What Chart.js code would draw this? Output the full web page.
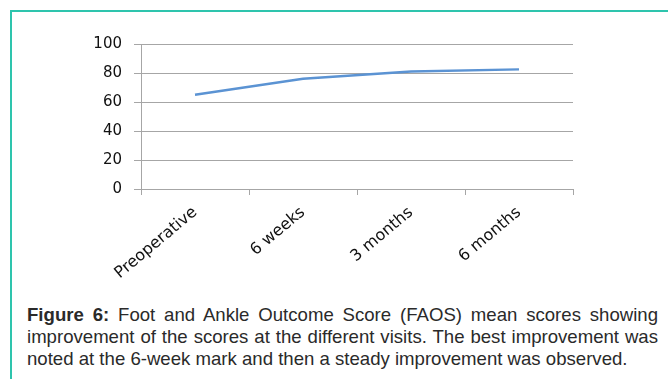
<!DOCTYPE html>
<html>
<head>
<meta charset="utf-8">
<script src="https://cdn.jsdelivr.net/npm/chart.js@4"></script>
<style>
  html, body { margin: 0; padding: 0; background: #fff; }
  body { width: 668px; height: 379px; position: relative; overflow: hidden; }
  .frame { position: absolute; left: 10px; top: 10px; width: 700px; height: 400px;
           border-top: 2px solid #2ec4ad; border-left: 2px solid #2ec4ad; }
  .wrap { position: absolute; left: 0; top: 0; width: 668px; height: 300px; }
  .caption { position: absolute; left: 27px; top: 304px; width: 631px;
             font-family: "Liberation Sans", Arial, sans-serif; font-size: 18.6px;
             line-height: 22px; color: #2a2a2a; text-align: justify; }
</style>
</head>
<body>
<div class="frame"></div>
<div class="wrap"><canvas id="lineChart"></canvas></div>
<div class="caption"><b>Figure 6:</b> Foot and Ankle Outcome Score (FAOS) mean scores showing improvement of the scores at the different visits. The best improvement was noted at the 6-week mark and then a steady improvement was observed.</div>
<script>
const visits = ['Preoperative', '6 weeks', '3 months', '6 months'];
const faosMean = [65, 76, 81, 82.5];
const yTicks = [0, 20, 40, 60, 80, 100];

const ctx = document.getElementById('lineChart').getContext('2d');
const lineChart = new Chart(ctx, {
    type: 'line',
    data: {
        labels: visits,
        datasets: [{
            label: 'FAOS',
            data: faosMean,
            borderColor: '#5b93d3',
            borderWidth: 2.5,
            pointRadius: 0,
            tension: 0,
            fill: false
        }]
    },
    options: {
        responsive: true,
        maintainAspectRatio: false,
        animation: false,
        layout: { padding: { top: 44, right: 95, left: 0, bottom: 0 } },
        plugins: {
            legend: { display: false },
            tooltip: { enabled: false }
        },
        scales: {
            x: {
                offset: true,
                afterFit: (scale) => { scale.height = 111; },
                grid: {
                    offset: true,
                    drawOnChartArea: false,
                    drawTicks: true,
                    tickLength: 6,
                    color: '#a6a6a6'
                },
                border: { color: '#a6a6a6' },
                ticks: {
                    minRotation: 40,
                    maxRotation: 40,
                    padding: 8,
                    color: '#111',
                    font: { family: 'DejaVu Sans', size: 16 }
                }
            },
            y: {
                min: 0,
                max: 100,
                afterFit: (scale) => { scale.width = 141; },
                afterBuildTicks: (scale) => { scale.ticks = yTicks.map(v => ({ value: v })); },
                grid: {
                    color: '#a6a6a6',
                    tickLength: 7
                },
                border: { color: '#a6a6a6' },
                ticks: {
                    padding: 12,
                    color: '#111',
                    font: { family: 'DejaVu Sans', size: 15 }
                }
            }
        }
    }
});
</script>
</body>
</html>
